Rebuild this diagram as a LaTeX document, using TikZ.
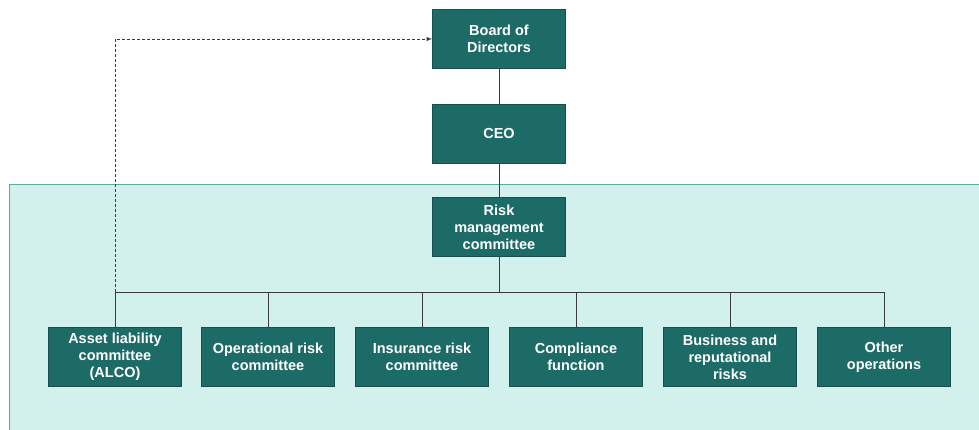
\documentclass[tikz,border=0pt]{standalone}
\usepackage{fontspec}
\setmainfont{Liberation Sans}
\usetikzlibrary{positioning}

\definecolor{boxteal}{HTML}{1D6B67}
\definecolor{boxedge}{HTML}{164F4C}
\definecolor{panelfill}{HTML}{D3F1EC}
\definecolor{paneledge}{HTML}{5EA9A1}
\definecolor{linkgrey}{HTML}{3A3A3A}

\begin{document}
\begin{tikzpicture}
        [x=1pt, y=-1pt,
        orgbox/.style={draw=boxedge, fill=boxteal, text=white, line width=0.8pt,
          minimum width=133pt, minimum height=59pt, inner sep=2pt,
          align=center, font=\fontsize{14.5}{17}\selectfont\bfseries},
        link/.style={draw=linkgrey, line width=0.9pt},
        dashlink/.style={draw=linkgrey, line width=0.9pt, dash pattern=on 3pt off 2pt}]

    \useasboundingbox (0,0) rectangle (979,430);

    \begin{scope}
      \clip (0,0) rectangle (979,430);
      \draw[fill=panelfill, draw=paneledge, line width=0.9pt] (9,184) rectangle (1000,450);
    \end{scope}

    % top of the chart
    \node[orgbox] (board) at (499,39) {Board of\\Directors};
    \node[orgbox] (ceo) at (499,134) {CEO};
    \node[orgbox] (rmc) at (499,227) {Risk\\management\\committee};

    % committees under the risk management committee
    \node[orgbox] (alco) at (115,357) {Asset liability\\committee\\(ALCO)};
    \node[orgbox] (oprisk) at (268,357) {Operational risk\\committee};
    \node[orgbox] (insrisk) at (422,357) {Insurance risk\\committee};
    \node[orgbox] (compl) at (576,357) {Compliance\\function};
    \node[orgbox] (busrisk) at (730,357) {Business and\\reputational\\risks};
    \node[orgbox] (otherops) at (884,357) {Other\\operations};

    \coordinate (bus) at (499,292);

    \draw[link] (board.south) -- (ceo.north);
    \draw[link] (ceo.south) -- (rmc.north);
    \draw[link] (rmc.south) -- (bus);
    \foreach \c in {alco, oprisk, insrisk, compl, busrisk, otherops}
      \draw[link] (bus) -| (\c.north);

    \draw[dashlink, -latex] (bus -| alco.north) |- (board.west);
    \end{tikzpicture}
\end{document}
